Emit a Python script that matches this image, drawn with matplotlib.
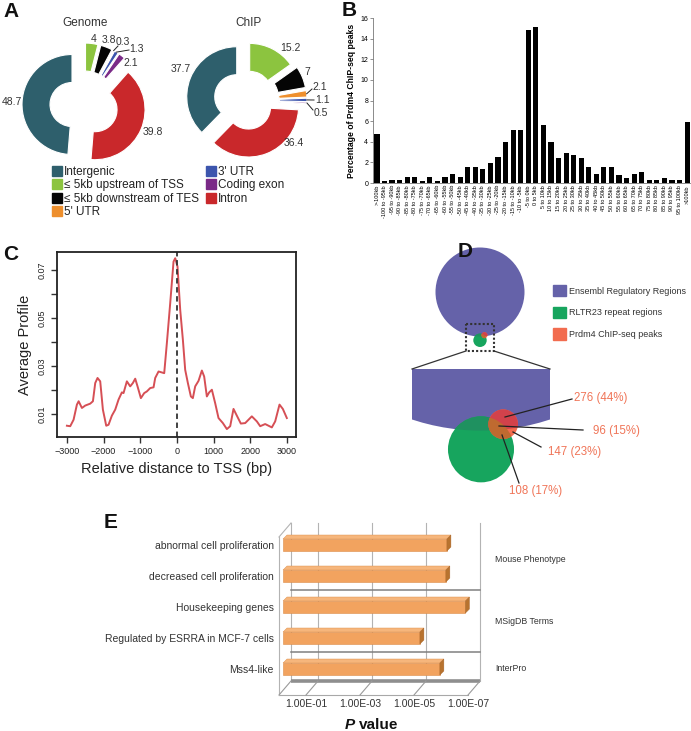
import numpy as np
import matplotlib
matplotlib.use("Agg")
import matplotlib.pyplot as plt
from matplotlib.patches import Patch, Circle, Rectangle, Polygon
from matplotlib.lines import Line2D
from matplotlib.transforms import offset_copy, IdentityTransform, Affine2D

plt.rcParams['font.family'] = ['Liberation Sans', 'DejaVu Sans']

W, H = 691, 731
fig = plt.figure(figsize=(W / 100, H / 100), dpi=100)


def rect(x0, y0, x1, y1):
    return [x0 / W, 1 - y1 / H, (x1 - x0) / W, (y1 - y0) / H]


# ------------------------------------------------------------------ data
regions = ["Intergenic", "≤ 5kb upstream of TSS", "≤ 5kb downstream of TES",
           "5' UTR", "3' UTR", "Coding exon", "Intron"]
region_colors = ["#2e5f6c", "#8cc43f", "#050505", "#ee8f2d", "#3c55ad",
                 "#7a2a87", "#c9282b"]
genome_pct = [48.7, 4.0, 3.8, 0.3, 1.3, 2.1, 39.8]
chip_pct = [37.7, 15.2, 7.0, 2.1, 1.1, 0.5, 36.4]
pie_order = [0, 6, 5, 4, 3, 2, 1]

bin_labels = [">-100kb", "-100 to -95kb", "-95 to -90kb", "-90 to -85kb",
              "-85 to -80kb", "-80 to -75kb", "-75 to -70kb", "-70 to -65kb",
              "-65 to -60kb", "-60 to -55kb", "-55 to -50kb", "-50 to -45kb",
              "-45 to -40kb", "-40 to -35kb", "-35 to -30kb", "-30 to -25kb",
              "-25 to -20kb", "-20 to -15kb", "-15 to -10kb", "-10 to -5kb",
              "-5 to 0kb", "0 to 5kb", "5 to 10kb", "10 to 15kb", "15 to 20kb",
              "20 to 25kb", "25 to 30kb", "30 to 35kb", "35 to 40kb",
              "40 to 45kb", "45 to 50kb", "50 to 55kb", "55 to 60kb",
              "60 to 65kb", "65 to 70kb", "70 to 75kb", "75 to 80kb",
              "80 to 85kb", "85 to 90kb", "90 to 95kb", "95 to 100kb", ">100kb"]
peak_pct = [4.8, 0.2, 0.3, 0.3, 0.6, 0.6, 0.15, 0.6, 0.15, 0.6, 0.9, 0.6,
            1.6, 1.6, 1.4, 1.9, 2.5, 4.0, 5.1, 5.1, 14.8, 15.1, 5.6, 4.0,
            2.4, 2.9, 2.7, 2.4, 1.6, 0.9, 1.6, 1.6, 0.8, 0.5, 0.9, 1.1,
            0.3, 0.3, 0.5, 0.3, 0.3, 5.9]

tss_x = [-3000, -2909, -2818, -2727, -2680, -2590, -2500, -2364, -2290, -2227,
         -2164, -2091, -2018, -1927, -1864, -1773, -1682, -1591, -1500, -1455,
         -1364, -1273, -1200, -1136, -1073, -982, -891, -818, -727, -636,
         -591, -500, -409, -345, -273, -182, -91, -45, 18, 91, 164, 227, 300,
         382, 436, 500, 591, 682, 745, 818, 882, 955, 1045, 1136, 1255, 1364,
         1455, 1545, 1636, 1745, 1864, 2045, 2182, 2273, 2409, 2591, 2682,
         2800, 2891, 3000]
tss_y = [0.0051, 0.0049, 0.0076, 0.0139, 0.0153, 0.0125, 0.0135, 0.0143,
         0.0153, 0.0229, 0.0250, 0.0236, 0.0118, 0.0051, 0.0055, 0.0093,
         0.0118, 0.0160, 0.0190, 0.0187, 0.0236, 0.0215, 0.0229, 0.0247,
         0.0215, 0.0166, 0.0187, 0.0194, 0.0208, 0.0211, 0.0250, 0.0277,
         0.0273, 0.0270, 0.0395, 0.0561, 0.0735, 0.0749, 0.0714, 0.0534,
         0.0409, 0.0284, 0.0229, 0.0173, 0.0166, 0.0215, 0.0238, 0.0281,
         0.0256, 0.0173, 0.0190, 0.0201, 0.0145, 0.0083, 0.0062, 0.0037,
         0.0049, 0.0121, 0.0093, 0.0060, 0.0062, 0.0090, 0.0069, 0.0049,
         0.0058, 0.0044, 0.0069, 0.0139, 0.0121, 0.0083]

venn_names = ["Ensembl Regulatory Regions", "RLTR23 repeat regions",
              "Prdm4 ChIP-seq peaks"]
venn_counts = [276, 96, 147, 108]
venn_pcts = [44, 15, 23, 17]

terms = ["abnormal cell proliferation", "decreased cell proliferation",
         "Housekeeping genes", "Regulated by ESRRA in MCF-7 cells", "Mss4-like"]
term_pvals = [8.5e-7, 9.3e-7, 1.75e-7, 8.5e-6, 1.55e-6]
term_groups = ["Mouse Phenotype", "Mouse Phenotype", "MSigDB Terms",
               "MSigDB Terms", "InterPro"]
e_tick_vals = [1, 3, 5, 7]
e_tick_labels = ["1.00E-01", "1.00E-03", "1.00E-05", "1.00E-07"]

# ------------------------------------------------------------------ overlay (pixel coords, y down)
ov = fig.add_axes([0, 0, 1, 1])
ov.patch.set_visible(False)

TXT = "#333333"

# ---- Panel A pies
def draw_pie(values, center, explode, label_pos, leader_end):
    vals = [values[i] for i in pie_order]
    cols = [region_colors[i] for i in pie_order]
    expl = [explode[i] for i in pie_order]
    wedges, _ = ov.pie(vals, colors=cols, startangle=-90, counterclock=False,
                       radius=50, center=center, explode=expl, frame=True,
                       wedgeprops=dict(width=28, edgecolor='white', linewidth=0.8))
    for w, idx in zip(wedges, pie_order):
        lx, ly = label_pos[idx]
        ov.text(lx, ly, f"{values[idx]:g}", fontsize=7.5, color=TXT,
                ha='center', va='center')
        if leader_end[idx] is not None:
            tm = np.deg2rad(0.5 * (w.theta1 + w.theta2))
            sx = w.center[0] + w.r * np.cos(tm)
            sy = w.center[1] + w.r * np.sin(tm)
            ex, ey = leader_end[idx]
            ov.plot([sx, ex], [sy, ey], color='#222222', lw=0.7)


genome_label_pos = [(12, 102), (94, 39), (109, 40), (123, 42), (136, 49),
                    (131, 63), (153, 132)]
genome_leaders = [None, None, None, (118, 46), (129, 50), None, None]
chip_label_pos = [(181, 69), (290, 48), (307, 72), (320, 87), (323, 100),
                  (321, 113), (294, 143)]
chip_leaders = [None, None, None, (312, 89), (314, 100), (313, 110), None]

draw_pie(genome_pct, (84, 105), [12, 12, 12, 12, 12, 12, 12],
         genome_label_pos, genome_leaders)
draw_pie(chip_pct, (246, 100.5), [10, 8, 11, 11, 11, 11, 7],
         chip_label_pos, chip_leaders)

ov.text(85, 23, "Genome", fontsize=8.5, color=TXT, ha='center', va='center')
ov.text(249, 23, "ChIP", fontsize=8.5, color=TXT, ha='center', va='center')

legA = ov.legend([Patch(color=c) for c in region_colors], regions, ncol=2,
                 loc='upper left', bbox_to_anchor=(52 / W, 1 - 166 / H),
                 bbox_transform=fig.transFigure, frameon=False, fontsize=8.5,
                 handlelength=0.85, handleheight=0.9, handletextpad=0.15,
                 labelspacing=0.12, columnspacing=0.6, borderpad=0,
                 borderaxespad=0)
for t in legA.get_texts():
    t.set_color('#222222')
ov.add_artist(legA)

# ---- Panel D venn
purple, green, coral = "#6562a9", "#17a55e", "#f26c4f"
crimson, brown, dgreen = "#d2424b", "#bf6a30", "#1f9160"
circ_P = (480, 292, 44.5)
circ_G = (480, 340.3, 6.7)
circ_R = (484.5, 335.2, 3.0)
box = (466, 324, 494, 351)
zbox = (412, 369, 550)
k = (zbox[2] - zbox[0]) / (box[2] - box[0])


def draw_venn(tr, clip=None):
    P = Circle(circ_P[:2], circ_P[2], fc=purple, ec='none', transform=tr)
    ov.add_patch(P)
    if clip is not None:
        P.set_clip_path(clip)
    G = Circle(circ_G[:2], circ_G[2], fc=green, ec='none', transform=tr)
    ov.add_patch(G)
    GP = Circle(circ_G[:2], circ_G[2], fc=dgreen, ec='none', transform=tr)
    ov.add_patch(GP)
    GP.set_clip_path(P)
    R = Circle(circ_R[:2], circ_R[2], fc=coral, ec='none', transform=tr)
    ov.add_patch(R)
    RP = Circle(circ_R[:2], circ_R[2], fc=crimson, ec='none', transform=tr)
    ov.add_patch(RP)
    RP.set_clip_path(P)
    RG = Circle(circ_R[:2], circ_R[2], fc=brown, ec='none', transform=tr)
    ov.add_patch(RG)
    RG.set_clip_path(G)


draw_venn(ov.transData)
ztr = Affine2D().translate(-box[0], -box[1]).scale(k).translate(zbox[0], zbox[1]) + ov.transData
zclip = Rectangle((zbox[0], zbox[1]), zbox[2] - zbox[0], 200, transform=ov.transData,
                  fc='none', ec='none')
ov.add_patch(zclip)
draw_venn(ztr, clip=zclip)
ov.add_patch(Rectangle((box[0], box[1]), box[2] - box[0], box[3] - box[1],
                       fill=False, ls=(0, (1, 1)), lw=1.5, ec='#333333'))
ov.plot([box[0], zbox[0]], [box[3], zbox[1]], color='#333333', lw=0.9)
ov.plot([box[2], zbox[2]], [box[3], zbox[1]], color='#333333', lw=0.9)

venn_lab_pos = [(601, 398), (616, 431), (575, 452), (536, 491)]
venn_lines = [((505, 417), (572, 399)), ((499, 426), (583, 430)),
              ((513, 432), (541, 447)), ((502, 435), (519, 483))]
for cnt, pc, (lx, ly), (s, e) in zip(venn_counts, venn_pcts, venn_lab_pos, venn_lines):
    ov.plot([s[0], e[0]], [s[1], e[1]], color='#222222', lw=0.9)
    ov.text(lx, ly, f"{cnt} ({pc}%)", fontsize=8.3, color='#f07558',
            ha='center', va='center')

legD = ov.legend([Patch(color=c) for c in (purple, green, coral)], venn_names,
                 loc='upper left', bbox_to_anchor=(553 / W, 1 - 285 / H),
                 bbox_transform=fig.transFigure, frameon=False, fontsize=6.5,
                 handlelength=1.45, handleheight=1.55, handletextpad=0.35,
                 labelspacing=1.15, borderpad=0, borderaxespad=0)
for t in legD.get_texts():
    t.set_color(TXT)

# panel letters
for letter, (x, y) in zip("ABCDE", [(3, 2), (342, 1), (3, 245), (458, 242), (104, 513)]):
    ov.text(x, y, letter, fontsize=15, fontweight='bold', va='top', ha='left',
            color='#111111')

# P value label
ov.text(345, 725, "P", fontsize=11, fontweight='bold', fontstyle='italic',
        ha='left', va='center', color='#111111')
ov.text(359, 725, "value", fontsize=11, fontweight='bold', ha='left',
        va='center', color='#111111')

ov.set_xlim(0, W)
ov.set_ylim(H, 0)
ov.set_axis_off()

# ------------------------------------------------------------------ Panel B
axB = fig.add_axes(rect(373, 18, 690, 183))
axB.patch.set_visible(False)
xb = np.arange(len(peak_pct))
axB.bar(xb, peak_pct, width=0.68, color='black')
axB.set_xlim(-0.52, len(peak_pct) - 0.62)
axB.set_ylim(0, 16)
axB.set_yticks(np.arange(0, 17, 2))
axB.set_xticks(xb)
axB.set_xticklabels(bin_labels, rotation=90, fontsize=4)
axB.tick_params(axis='x', length=0, pad=1.5)
axB.tick_params(axis='y', labelsize=5, length=2, width=0.5, pad=1.5, color='#666666')
for s in ('top', 'right'):
    axB.spines[s].set_visible(False)
for s in ('left', 'bottom'):
    axB.spines[s].set_linewidth(0.6)
    axB.spines[s].set_color('#777777')
axB.set_ylabel("Percentage of Prdm4 ChIP-seq peaks", fontsize=6.2,
               fontweight='bold', labelpad=3)

# ------------------------------------------------------------------ Panel C
axC = fig.add_axes(rect(57, 252, 296, 437))
axC.patch.set_visible(False)
axC.plot(tss_x, tss_y, color='#d64f55', lw=1.4)
axC.axvline(0, color='#333333', ls=(0, (3, 2)), lw=1.3)
axC.set_xlim(-3270, 3250)
axC.set_ylim(0.0004, 0.0775)
axC.set_xticks([-3000, -2000, -1000, 0, 1000, 2000, 3000])
axC.set_yticks([0.01, 0.02, 0.03, 0.04, 0.05, 0.06, 0.07])
axC.set_yticklabels(["0.01", "", "0.03", "", "0.05", "", "0.07"],
                    rotation=90, va='center')
axC.tick_params(labelsize=6.5, length=4, width=1, color='#333333',
                labelcolor='#222222')
for s in axC.spines.values():
    s.set_linewidth(1.3)
    s.set_color('#222222')
axC.set_ylabel("Average Profile", fontsize=10.5, color='#222222')
axC.set_xlabel("Relative distance to TSS (bp)", fontsize=10.5, color='#222222',
               labelpad=4)

# ------------------------------------------------------------------ Panel E
axE = fig.add_axes(rect(279, 530, 468, 695))
axE.patch.set_visible(False)
nE = len(terms)
yE = np.arange(nE)
vE = -np.log10(np.array(term_pvals))
y_floor = (695 - 545) / 31
y_top = (530 - 545) / 31
y_wall = (537 - 545) / 31
axE.set_xlim(0, 7)
axE.set_ylim(y_floor, y_top)
axE.set_frame_on(False)
axE.set_xticks(e_tick_vals)
axE.set_xticklabels(e_tick_labels)
axE.set_yticks(yE)
axE.set_yticklabels(terms)
axE.tick_params(length=0, labelsize=7.5, labelcolor='#333333')
axE.tick_params(axis='y', pad=3.6)
axE.tick_params(axis='x', pad=3)

BX, BY = 12, 14
tr_back = offset_copy(axE.transData, fig=fig, x=BX, y=BY, units='dots')
tr_sep = offset_copy(axE.transData, fig=fig, x=BX, y=0, units='dots')
tr_bar = offset_copy(axE.transData, fig=fig, x=4, y=0, units='dots')

for t in [0] + e_tick_vals:
    axE.plot([t, t], [y_floor, y_wall], transform=tr_back, color='#b3b3b3',
             lw=0.8, clip_on=False, zorder=0)
# group separators
groups_unique = list(dict.fromkeys(term_groups))
bounds = []
for gi, g in enumerate(groups_unique):
    idx = [i for i, gg in enumerate(term_groups) if gg == g]
    axE.text(8.0, np.mean(idx) - 0.03, g, fontsize=6.3, color='#333333',
             ha='left', va='center', clip_on=False)
    if gi > 0:
        bounds.append(idx[0] - 0.55)
for yb in bounds:
    axE.plot([0, 7], [yb, yb], transform=tr_sep, color='#808080', lw=1.1,
             clip_on=False, zorder=0.5)
# floor
axE.plot([0, 7], [y_floor, y_floor], transform=tr_back, color='#8e8e8e',
         lw=2.6, clip_on=False, zorder=0.6, solid_capstyle='butt')
axE.plot([0, 7], [y_floor, y_floor], color='#a8a8a8', lw=0.8, clip_on=False)
axE.plot([0, 0], [y_floor, y_wall], color='#b3b3b3', lw=0.8, clip_on=False)

hE = 12 / 31
bars = axE.barh(yE, vE, height=hE, left=0, color='#f2a35f', edgecolor='#dc8c48',
                lw=0.4, transform=tr_bar, zorder=3)
for b in bars:
    b.set_clip_on(False)

fig.canvas.draw()
ident = IdentityTransform()
d = 4
for i, v in enumerate(vE):
    x0, ytp = axE.transData.transform((0, i - hE / 2))
    x1, ybt = axE.transData.transform((v, i + hE / 2))
    x0 += 4
    x1 += 4
    top = Polygon([(x0, ytp), (x1, ytp), (x1 + d, ytp + d), (x0 + d, ytp + d)],
                  closed=True, transform=ident, fc='#f6b67c', ec='#dc8c48', lw=0.3,
                  zorder=3)
    side = Polygon([(x1, ytp), (x1 + d, ytp + d), (x1 + d, ybt + d), (x1, ybt)],
                   closed=True, transform=ident, fc='#b8732f', ec='#a8652a', lw=0.3,
                   zorder=3)
    for p in (top, side):
        axE.add_patch(p)
        p.set_clip_on(False)

# floor diagonals / left wall top (display coords)
for t in [0] + e_tick_vals:
    px, py = axE.transData.transform((t, y_floor))
    fig.add_artist(Line2D([px, px + BX], [py, py + BY], transform=ident,
                          color='#9a9a9a', lw=0.8))
px, py = axE.transData.transform((0, y_wall))
fig.add_artist(Line2D([px, px + BX], [py, py + BY], transform=ident,
                      color='#b3b3b3', lw=0.8))

fig.savefig("out.png", dpi=100)
